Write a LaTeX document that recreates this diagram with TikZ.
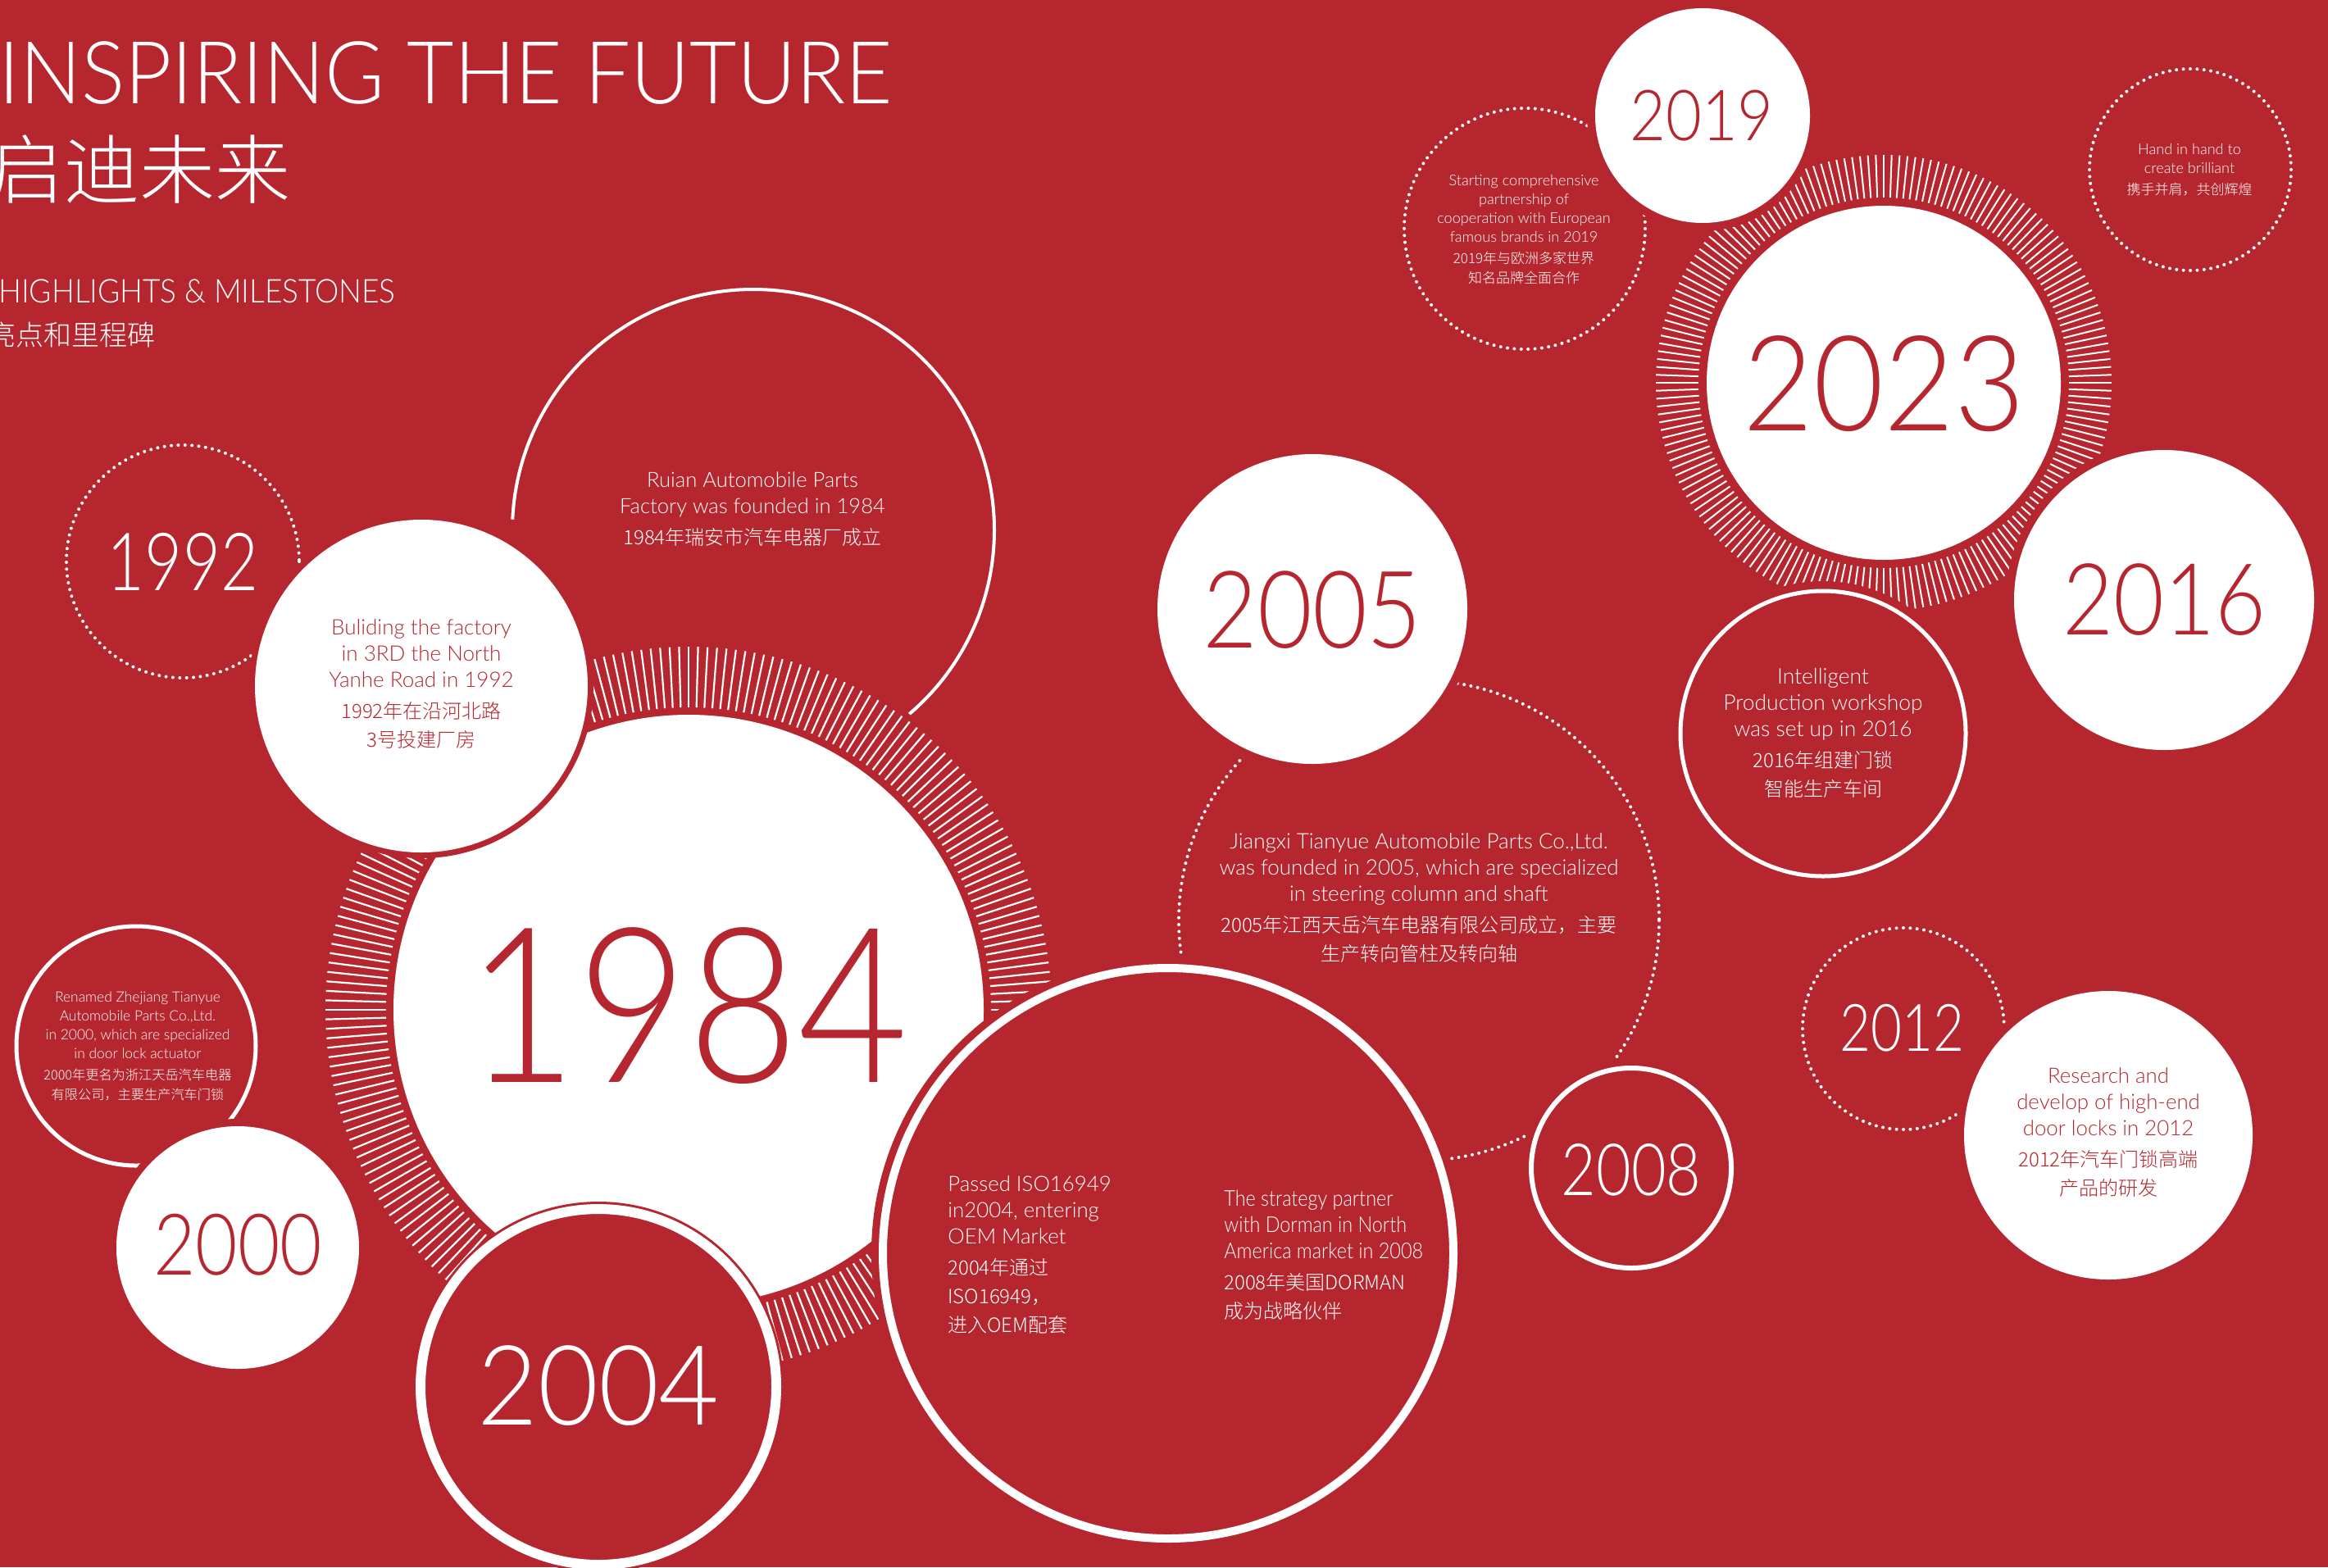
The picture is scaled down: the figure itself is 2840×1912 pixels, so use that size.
\documentclass[tikz,border=0pt]{standalone}
\usepackage{fontspec}
\IfFontExistsTF{Lato Light}{\setmainfont{Lato Light}[FakeStretch=0.88]}{\setmainfont{Lato}[FakeStretch=0.88]}
\IfFontExistsTF{Lato Light}{\newfontfamily\reg{Lato Light}}{\newfontfamily\reg{Lato}}
\IfFontExistsTF{Noto Sans CJK SC Light}{\newfontfamily\cjk{Noto Sans CJK SC Light}}{\newfontfamily\cjk{Noto Sans CJK SC}}
\definecolor{bgred}{HTML}{B5262F}
\newcommand\fs[2]{\fontsize{#1}{#2}\selectfont}
\newcommand\zh[1]{{\cjk\fontsize{12}{16}\selectfont #1}}
\newcommand\zhx[2]{{\cjk\fontsize{#1}{11.5}\selectfont #2}}
\tikzset{
  tickA/.style={white, line width=1.1pt},
  tickB/.style={white, line width=1.0pt},
  dots/.style={white, line width=2pt, line cap=round, dash pattern=on 0pt off 4.2pt},
  halo/.style={fill=bgred},
  blk/.style={inner sep=0pt, align=center, text=white, font=\reg\fs{13}{16}},
  blks/.style={inner sep=0pt, align=center, text=white, font=\reg\fs{9.05}{11.5}},
  yr/.style={inner sep=0pt},
}
\begin{document}
\begin{tikzpicture}[x=0.5pt,y=-0.5pt]
\useasboundingbox (0,0) rectangle (2840,1912);
\fill[bgred] (0,0) rectangle (2840,1912);

% centres
\coordinate (c1984) at (840,1232);
\coordinate (c1992) at (514,837);
\coordinate (c1992d) at (223,685);
\coordinate (cRuian) at (919,647);
\coordinate (c2000t) at (166,1276);
\coordinate (c2000) at (290,1522);
\coordinate (c2004) at (730,1692);
\coordinate (cBig) at (1425,1529);
\coordinate (c2005) at (1601,743);
\coordinate (c2005d) at (1731,1123);
\coordinate (c2008) at (1990,1425);
\coordinate (c2019) at (2077,141);
\coordinate (c2019d) at (1860,279);
\coordinate (cHand) at (2672,207);
\coordinate (c2023) at (2298,467);
\coordinate (c2016) at (2640,732);
\coordinate (cIntel) at (2224,895);
\coordinate (c2012d) at (2322,1255);
\coordinate (c2012) at (2572,1385);

% Ruian outline arc
\draw[white, line width=2pt, shift={(cRuian)}] (182.6:294) arc[start angle=182.6, end angle=409.7, radius=294];
% 1992 dotted
\draw[dots] (c1992d) circle[radius=142];
% 1984 ring
\fill[halo] (c1984) circle[radius=450];
\foreach \a in {0,1.5,...,358.5} \draw[tickA, shift={(c1984)}] (\a:369) -- (\a:443);
\fill[white] (c1984) circle[radius=360];
% 1992 white
\fill[halo] (c1992) circle[radius=210];
\fill[white] (c1992) circle[radius=203];
% 2000 text circle
\draw[white, line width=2.5pt] (c2000t) circle[radius=146];
% 2000 white
\fill[halo] (c2000) circle[radius=157];
\fill[white] (c2000) circle[radius=148];
% 2004
\fill[halo] (c2004) circle[radius=226];
\draw[white, fill=bgred, line width=6pt] (c2004) circle[radius=217];
% 2005 dotted + white
\draw[dots] (c2005d) circle[radius=293];
\fill[halo] (c2005) circle[radius=199];
\fill[white] (c2005) circle[radius=189];
% big red circle
\fill[halo] (cBig) circle[radius=362];
\draw[white, fill=bgred, line width=5pt] (cBig) circle[radius=348];
% 2008
\fill[halo] (c2008) circle[radius=134];
\draw[white, fill=bgred, line width=3pt] (c2008) circle[radius=122];
% 2019 dotted, hand dotted
\draw[dots] (c2019d) circle[radius=147];
\draw[dots] (cHand) circle[radius=123];
% 2023 ring
\fill[halo] (c2023) circle[radius=285];
\foreach \a in {0,2,...,358} \draw[tickB, shift={(c2023)}] (\a:226) -- (\a:278);
\fill[white] (c2023) circle[radius=216];
% 2019 white
\fill[halo] (c2019) circle[radius=141];
\fill[white] (c2019) circle[radius=131];
% 2016 white
\fill[halo] (c2016) circle[radius=193];
\fill[white] (c2016) circle[radius=183];
% intelligent
\fill[halo] (cIntel) circle[radius=186];
\draw[white, fill=bgred, line width=2.5pt] (cIntel) circle[radius=174];
% 2012
\draw[dots] (c2012d) circle[radius=123];
\fill[halo] (c2012) circle[radius=186];
\fill[white] (c2012) circle[radius=176];

% titles
\node[inner sep=0pt, anchor=base west, text=white, font=\fs{53}{60}] (title) at (-2,126) {\scalebox{1.064}[1]{INSPIRING THE FUTURE}};
\node[inner sep=0pt, anchor=base west, text=white, font=\cjk\fs{46}{50}] (titlecn) at (-14,241) {启迪未来};
\node[inner sep=0pt, anchor=base west, text=white, font=\fs{20}{24}] (sub) at (-2,369) {\scalebox{1.05}[1]{HIGHLIGHTS \& MILESTONES}};
\node[inner sep=0pt, anchor=base west, text=white, font=\cjk\fs{17}{20}] (subcn) at (-15,421) {亮点和里程碑};

% years
\node[yr, text=bgred, font=\fs{132}{140}] (y1984) at (839,1227) {1984};
\node[yr, text=bgred, font=\fs{81}{90}] (y2023) at (2298,468) {\scalebox{1.04}[1]{2023}};
\node[yr, text=white, font=\fs{67.7}{75}] (y2004) at (730,1691) {\scalebox{1.07}[1]{2004}};
\node[yr, text=bgred, font=\fs{65.5}{72}] (y2005) at (1601,744) {2005};
\node[yr, text=bgred, font=\fs{60.7}{68}] (y2016) at (2640,732) {2016};
\node[yr, text=bgred, font=\fs{52}{60}] (y2000) at (290,1519) {\scalebox{0.97}[1]{2000}};
\node[yr, text=white, font=\fs{49}{56}] (y1992) at (223,685) {\scalebox{0.92}[1]{1992}};
\node[yr, text=white, font=\fs{44}{50}] (y2008) at (1990,1427) {\scalebox{0.95}[1]{2008}};
\node[yr, text=bgred, font=\fs{43}{48}] (y2019) at (2076,141) {2019};
\node[yr, text=white, font=\fs{40}{48}] (y2012) at (2320,1254) {\scalebox{0.93}[1]{2012}};

% text blocks
\node[blk, anchor=north, font=\reg\fs{12.8}{16}] (tRuian) at (918,575) {Ruian Automobile Parts\\Factory was founded in 1984\\[3pt]\zh{1984年瑞安市汽车电器厂成立}};
\node[blk, anchor=north, text=bgred] (t1992) at (514,755) {Buliding the factory\\in 3RD the North\\Yanhe Road in 1992\\[3pt]\zh{1992年在沿河北路}\\[1.5pt]\zh{3号投建厂房}};
\node[blks, anchor=north, font=\reg\fs{8.7}{11.5}] (t2000) at (168,1209) {Renamed Zhejiang Tianyue\\Automobile Parts Co.,Ltd.\\in 2000, which are specialized\\in door lock actuator\\[1.5pt]\zhx{8.1}{2000年更名为浙江天岳汽车电器}\\[0.5pt]\zhx{8.1}{有限公司，主要生产汽车门锁}};
\node[blk, anchor=north west, align=left, font=\reg\fs{12.9}{16}] (t2004) at (1156,1434) {Passed ISO16949\\in2004, entering\\OEM Market\\[3pt]\zh{2004年通过}\\[1.5pt]\zh{ISO16949，}\\[1.5pt]\zh{进入OEM配套}};
\node[blk, anchor=north west, align=left, font=\fs{13.3}{16}] (t2008) at (1493,1452) {The strategy partner\\with Dorman in North\\America market in 2008\\[3pt]\zh{2008年美国DORMAN}\\[1.5pt]\zh{成为战略伙伴}};
\node[blk, anchor=north] (t2005) at (1731,1016) {Jiangxi Tianyue Automobile Parts Co.,Ltd.\\was founded in 2005, which are specialized\\in steering column and shaft\\[3pt]\zh{2005年江西天岳汽车电器有限公司成立，主要}\\[1.5pt]\zh{生产转向管柱及转向轴}};
\node[blk, anchor=north, font=\reg\fs{13.2}{16}] (t2016) at (2224,815) {Intelligent\\Production workshop\\was set up in 2016\\[3pt]\zh{2016年组建门锁}\\[1.5pt]\zh{智能生产车间}};
\node[blk, anchor=north, text=bgred, font=\reg\fs{12.9}{16}] (t2012) at (2572,1302) {Research and\\develop of high-end\\door locks in 2012\\[3pt]\zh{2012年汽车门锁高端}\\[1.5pt]\zh{产品的研发}};
\node[blks, anchor=north] (t2019) at (1859,213) {Starting comprehensive\\partnership of\\cooperation with European\\famous brands in 2019\\[1.5pt]\zhx{8.5}{2019年与欧洲多家世界}\\[0.5pt]\zhx{8.5}{知名品牌全面合作}};
\node[blks, anchor=north] (tHand) at (2671,175) {Hand in hand to\\create brilliant\\[1.5pt]\zhx{8.5}{携手并肩，共创辉煌}};
\end{tikzpicture}
\end{document}
